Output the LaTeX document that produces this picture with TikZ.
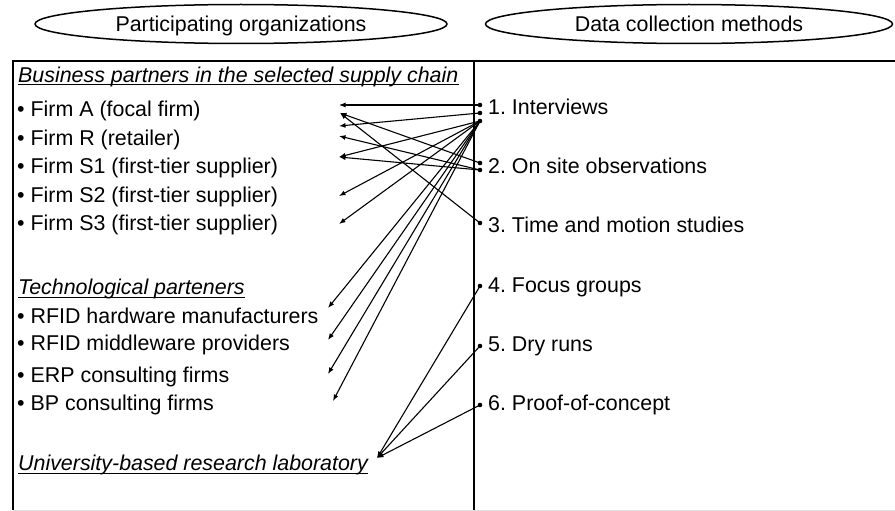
\documentclass[tikz,border=0pt]{standalone}
\usepackage{fontspec}
\setmainfont{Liberation Sans}
\usetikzlibrary{shapes.geometric,arrows.meta}
\frenchspacing

\tikzset{
  item text/.style={anchor=base west, inner sep=0pt, font=\fontsize{21.4}{25}\selectfont},
  group text/.style={item text, font=\fontsize{21.4}{25}\selectfont\itshape},
  title oval/.style={draw, ellipse, line width=1.5pt, inner sep=0pt,
    minimum width=412pt, minimum height=39pt, text height=15.2pt, text depth=0pt,
    font=\fontsize{21.4}{25}\selectfont},
  src dot/.style={circle, fill, inner sep=0pt, minimum size=4.6pt},
  link/.style={line width=1.1pt, -{Latex[length=6.5pt,width=5pt]}},
}

\begin{document}
\begin{tikzpicture}[x=1pt,y=-1pt]
  \useasboundingbox (0,0) rectangle (895,511);

  % Title ovals above the two columns
  \node[title oval] (orgs) at (241,24) {Participating organizations};
  \node[title oval, minimum width=407pt] (methods) at (689,24) {Data collection methods};

  % Frame and column divider
  \draw[line width=1.6pt] (13,510) -- (13,61) -- (900,61);
  \draw[line width=1.6pt] (474,61) -- (474,511);
  \draw[black!12, line width=1pt] (13,510) -- (895,510);

  % Left column: groups of organizations (italic, underlined)
  \node[group text] (biz) at (18,82) {Business partners in the selected supply chain};
  \node[group text] (tech) at (18,294) {Technological parteners};
  \node[group text] (univ) at (18,470) {University-based research laboratory};
  \foreach \g in {biz, tech, univ}
    \draw[line width=1pt] ([yshift=-3pt]\g.base west) -- ([yshift=-3pt]\g.base east);

  % Left column: bullet items
  \foreach \y/\name/\txt in {117/firmA/Firm A (focal firm), 145/firmR/Firm R (retailer),
      173.5/firmSa/Firm S1 (first-tier supplier), 202/firmSb/Firm S2 (first-tier supplier),
      230/firmSc/Firm S3 (first-tier supplier), 323.6/hw/RFID hardware manufacturers,
      350.6/mw/RFID middleware providers, 382/erp/ERP consulting firms, 410/bp/BP consulting firms}
    \node[item text] (\name) at (17,\y) {\textbullet\ \txt};

  % Right column: data collection methods
  \foreach \y/\name/\txt in {114.6/interv/1. Interviews, 173.6/observ/2. On site observations,
      232.6/timemo/3. Time and motion studies, 292.6/focus/4. Focus groups,
      351.6/dryrun/5. Dry runs, 410.6/proof/6. Proof-of-concept}
    \node[item text] (\name) at (488,\y) {\txt};

  % Source dots next to the methods
  \foreach \y/\name in {105/d1a, 113/d1b, 121/d1c, 163/d2a, 170/d2b, 223/d3, 286/d4, 346/d5, 405/d6}
    \node[src dot] (\name) at (480,\y) {};

  % Arrow targets beside the organizations
  \foreach \x/\y/\name in {339/105/tA, 340/113/tAb, 339/126/tR, 339/136/tRb, 339/157/tSa,
      339/196/tSb, 339/224/tSc, 328/308/tHw, 328/340/tMw, 328/374/tErp, 333/401/tBp, 377/458/tUniv}
    \coordinate (\name) at (\x,\y);

  % Links from methods to organizations
  \foreach \s/\t in {d1a/tA, d1b/tR, d1c/tSa, d1c/tSb, d1c/tSc, d1c/tHw, d1c/tMw, d1c/tErp, d1c/tBp,
      d2a/tAb, d2b/tRb, d2b/tSa, d3/tAb, d4/tUniv, d5/tUniv, d6/tUniv}
    \draw[link] (\s.center) -- (\t);
\end{tikzpicture}
\end{document}
